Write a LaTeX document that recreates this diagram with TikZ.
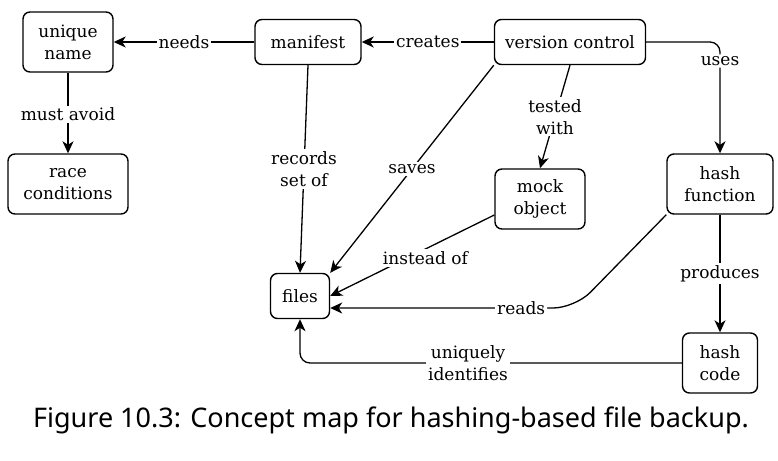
\documentclass[tikz,border=0pt]{standalone}
\usepackage{fontspec}
\setmainfont{DejaVu Serif}
\newfontfamily\capfont{Noto Sans}
\usetikzlibrary{arrows.meta}
\begin{document}
\begin{tikzpicture}[x=1pt,y=-1pt,
  concept/.style={draw,line width=1.4pt,rounded corners=7pt,align=center,inner sep=0pt,font=\fontsize{17}{22}\selectfont},
  link/.style={line width=1.3pt,-{Stealth[length=12pt,width=11pt,inset=3.5pt]}},
  lab/.style={fill=white,inner sep=2pt,align=center,font=\fontsize{17}{22}\selectfont}]
\useasboundingbox (0,0) rectangle (778,460);
\node[concept,minimum width=90pt,minimum height=60pt] (un) at (68,42) {unique\\name};
\node[concept,minimum width=120pt,minimum height=60pt] (rc) at (68,184) {race\\conditions};
\node[concept,minimum width=106pt,minimum height=45pt] (mf) at (308,42) {manifest};
\node[concept,minimum width=151pt,minimum height=45pt] (vc) at (570,42) {version control};
\node[concept,minimum width=90pt,minimum height=60pt] (mo) at (540,199) {mock\\object};
\node[concept,minimum width=106pt,minimum height=60pt] (hf) at (720,184) {hash\\function};
\node[concept,minimum width=59pt,minimum height=45pt] (fi) at (300,296) {files};
\node[concept,minimum width=75pt,minimum height=60pt] (hc) at (720,363) {hash\\code};
\node[font=\capfont\fontsize{27}{32}\selectfont] (cap) at (391,420) {Figure 10.3: Concept map for hashing-based file backup.};

\draw[link] (mf) -- node[lab] {needs} (un);
\draw[link] (vc) -- node[lab] {creates} (mf);
\draw[link] (un) -- node[lab,pos=0.52] {must avoid} (rc);
\draw[link] (mf.south) -- node[lab,pos=0.5] {records\\set of} (fi.north);
\draw[link] (vc.south west) -- node[lab,pos=0.5] {saves} (fi.north east);
\draw[link] (vc.south) -- node[lab,pos=0.5] {tested\\with} (mo.north);
\draw[link,rounded corners=10pt] (vc.east) -| node[lab,pos=0.585] {uses} (hf.north);
\draw[link] ([yshift=-16pt]mo.west) -- node[lab,pos=0.42,yshift=-9pt] {instead of} (fi.east);
\coordinate (rk) at (575,308);
\draw[link,rounded corners=22pt] (hf.south west) -- (rk) -- node[lab,pos=0.22] {reads} (fi.east |- rk);
\draw[link] (hf) -- node[lab,pos=0.5] {produces} (hc);
\draw[link,rounded corners=10pt] (hc.west) -| node[lab,pos=0.28] {uniquely\\identifies} (fi.south);
\end{tikzpicture}
\end{document}
